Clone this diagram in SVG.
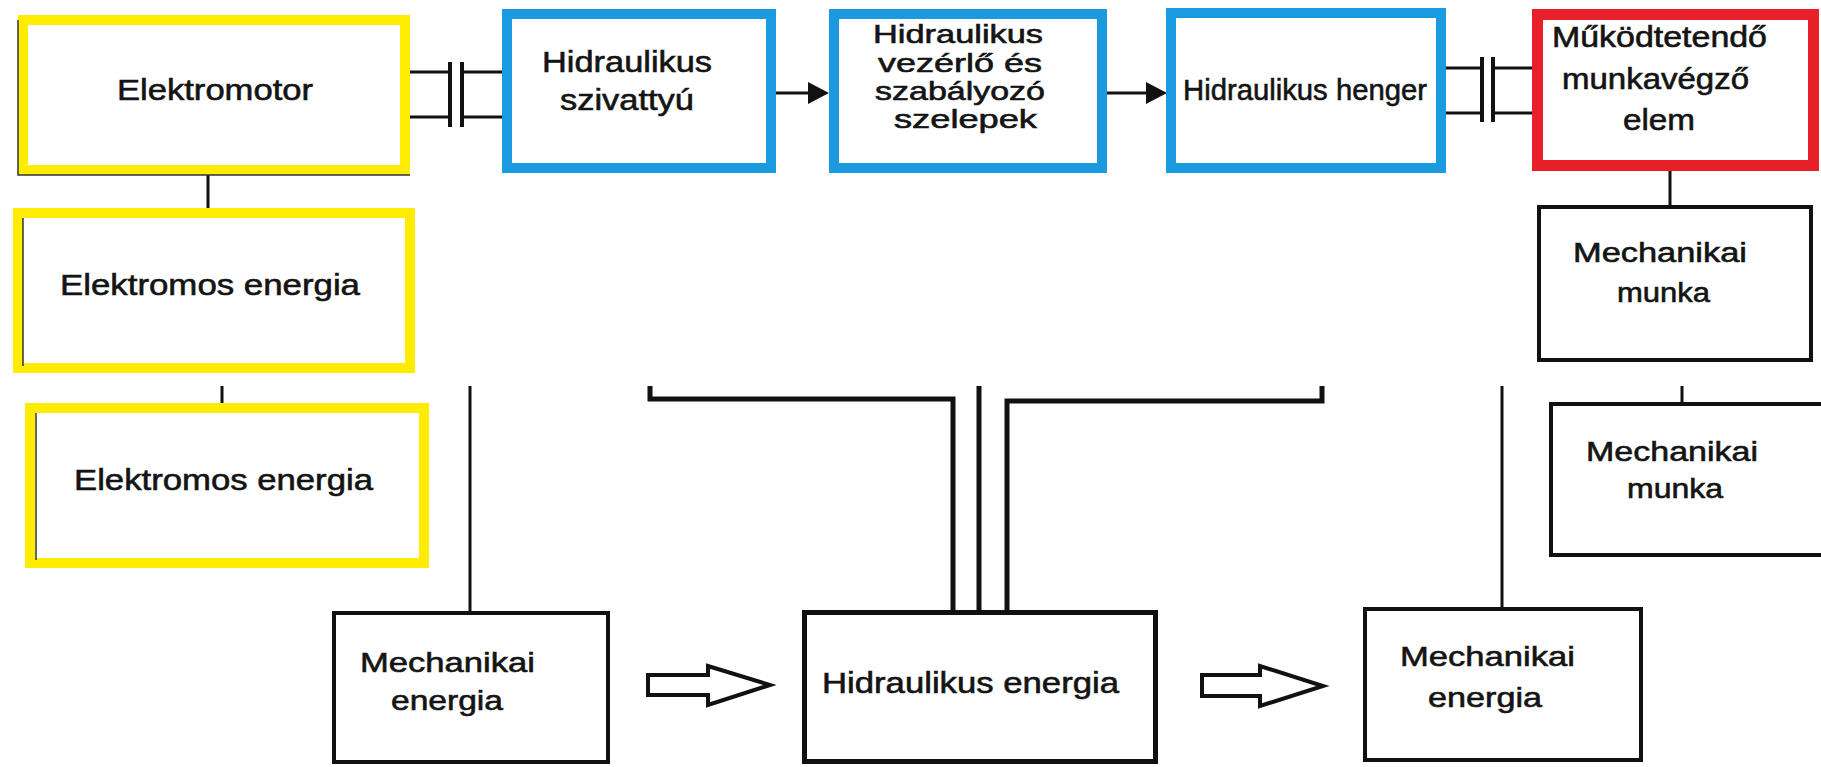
<svg xmlns="http://www.w3.org/2000/svg" width="1821" height="767" viewBox="0 0 1821 767">
<defs>
<style>
.t{font-family:"Liberation Sans",Arial,Helvetica,sans-serif;fill:#141414;stroke:#141414;stroke-width:0.6;}
.y{fill:#fff;stroke:#FFEC00;stroke-width:10;}
.b{fill:#fff;stroke:#1A9BDF;stroke-width:10;}
.r{fill:#fff;stroke:#E8202A;stroke-width:11;}
.k{fill:#fff;stroke:#111;stroke-width:4;}
.ln{fill:none;stroke:#111;stroke-width:3;}
.ln5{fill:none;stroke:#111;stroke-width:5;}
.edge{fill:none;stroke:#333;stroke-width:1.5;}
.hollow{fill:#fff;stroke:#111;stroke-width:4;stroke-linejoin:miter;}
.head{fill:#111;}
</style>
</defs>
<rect width="1821" height="767" fill="#fff"/>

<g id="connectors">
  <line class="ln" x1="208" y1="175" x2="208" y2="209"/>
  <line class="ln" x1="222" y1="386" x2="222" y2="404"/>
  <line class="ln" x1="470" y1="386" x2="470" y2="612"/>
  <path class="ln5" d="M650 386 V399 H953 V612"/>
  <line class="ln5" x1="979" y1="386" x2="979" y2="612"/>
  <path class="ln5" d="M1322 386 V401 H1007 V612"/>
  <line class="ln" x1="1502" y1="386" x2="1502" y2="608"/>
  <line class="ln" x1="1670" y1="171" x2="1670" y2="206"/>
  <line class="ln" x1="1682" y1="386" x2="1682" y2="403"/>
  <line class="ln" x1="776" y1="93" x2="812" y2="93"/>
  <polygon class="head" points="808,82 829,93 808,104"/>
  <line class="ln" x1="1107" y1="93" x2="1150" y2="93"/>
  <polygon class="head" points="1146,82 1167,93 1146,104"/>
  <path class="ln" d="M410 72 H450 M410 117 H450 M462 72 H502 M462 117 H502"/>
  <line class="ln" x1="450" y1="62" x2="450" y2="127" style="stroke-width:4"/>
  <line class="ln" x1="462" y1="62" x2="462" y2="127" style="stroke-width:4"/>
  <path class="ln" d="M1446 68 H1482 M1446 113 H1482 M1493 68 H1532 M1493 113 H1532"/>
  <line class="ln" x1="1482" y1="57" x2="1482" y2="122" style="stroke-width:4"/>
  <line class="ln" x1="1493" y1="57" x2="1493" y2="122" style="stroke-width:4"/>
  <polygon class="hollow" points="648,675 708,675 708,666 770,685 708,705 708,695 648,695"/>
  <polygon class="hollow" points="1202,675 1260,675 1260,666 1323,686 1260,706 1260,696 1202,696"/>
</g>

<g id="elektromotor">
  <rect class="y" x="23" y="20" width="382" height="150"/>
  <path class="edge" d="M18 20 V175 H410"/>
  <text class="t" x="117" y="100" font-size="30" textLength="196" lengthAdjust="spacingAndGlyphs">Elektromotor</text>
</g>

<g id="elektromos-energia-1">
  <rect class="y" x="18" y="213" width="392" height="155"/>
  <path class="edge" d="M23 218 V366"/>
  <text class="t" x="60" y="295" font-size="30" textLength="300" lengthAdjust="spacingAndGlyphs">Elektromos energia</text>
</g>

<g id="elektromos-energia-2">
  <rect class="y" x="30" y="408" width="394" height="155"/>
  <path class="edge" d="M36 413 V560"/>
  <text class="t" x="74" y="490" font-size="30" textLength="299" lengthAdjust="spacingAndGlyphs">Elektromos energia</text>
</g>

<g id="szivattyu">
  <rect class="b" x="507" y="14" width="264" height="154"/>
  <text class="t" x="542" y="72" font-size="30" textLength="170" lengthAdjust="spacingAndGlyphs">Hidraulikus</text>
  <text class="t" x="560" y="110" font-size="30" textLength="134" lengthAdjust="spacingAndGlyphs">szivattyú</text>
</g>

<g id="szelepek">
  <rect class="b" x="834" y="14" width="268" height="154"/>
  <text class="t" x="873" y="43" font-size="26" textLength="170" lengthAdjust="spacingAndGlyphs">Hidraulikus</text>
  <text class="t" x="878" y="72" font-size="26" textLength="164" lengthAdjust="spacingAndGlyphs">vezérlő és</text>
  <text class="t" x="875" y="100" font-size="26" textLength="170" lengthAdjust="spacingAndGlyphs">szabályozó</text>
  <text class="t" x="894" y="128" font-size="26" textLength="143" lengthAdjust="spacingAndGlyphs">szelepek</text>
</g>

<g id="henger">
  <rect class="b" x="1171" y="13" width="270" height="155"/>
  <text class="t" x="1183" y="100" font-size="30" textLength="244" lengthAdjust="spacingAndGlyphs">Hidraulikus henger</text>
</g>

<g id="munkavegzo-elem">
  <rect class="r" x="1537.5" y="14.5" width="276" height="151"/>
  <text class="t" x="1552" y="47" font-size="29" textLength="215" lengthAdjust="spacingAndGlyphs">Működtetendő</text>
  <text class="t" x="1562" y="89" font-size="29" textLength="187" lengthAdjust="spacingAndGlyphs">munkavégző</text>
  <text class="t" x="1623" y="130" font-size="29" textLength="72" lengthAdjust="spacingAndGlyphs">elem</text>
</g>

<g id="mechanikai-munka-1">
  <rect class="k" x="1539" y="207" width="272" height="153"/>
  <text class="t" x="1573" y="262" font-size="28" textLength="174" lengthAdjust="spacingAndGlyphs">Mechanikai</text>
  <text class="t" x="1617" y="302" font-size="28" textLength="93" lengthAdjust="spacingAndGlyphs">munka</text>
</g>

<g id="mechanikai-munka-2">
  <rect class="k" x="1551" y="404" width="300" height="151"/>
  <text class="t" x="1586" y="461" font-size="28" textLength="172" lengthAdjust="spacingAndGlyphs">Mechanikai</text>
  <text class="t" x="1627" y="498" font-size="28" textLength="96" lengthAdjust="spacingAndGlyphs">munka</text>
</g>

<g id="mechanikai-energia-1">
  <rect class="k" x="334" y="613" width="274" height="149"/>
  <text class="t" x="360" y="672" font-size="28" textLength="175" lengthAdjust="spacingAndGlyphs">Mechanikai</text>
  <text class="t" x="391" y="710" font-size="28" textLength="112" lengthAdjust="spacingAndGlyphs">energia</text>
</g>

<g id="hidraulikus-energia">
  <rect class="k" x="804.5" y="612.5" width="351" height="149" style="stroke-width:5"/>
  <text class="t" x="822" y="693" font-size="29" textLength="297" lengthAdjust="spacingAndGlyphs">Hidraulikus energia</text>
</g>

<g id="mechanikai-energia-2">
  <rect class="k" x="1365" y="609" width="276" height="151"/>
  <text class="t" x="1400" y="666" font-size="28" textLength="175" lengthAdjust="spacingAndGlyphs">Mechanikai</text>
  <text class="t" x="1428" y="707" font-size="28" textLength="114" lengthAdjust="spacingAndGlyphs">energia</text>
</g>
</svg>
